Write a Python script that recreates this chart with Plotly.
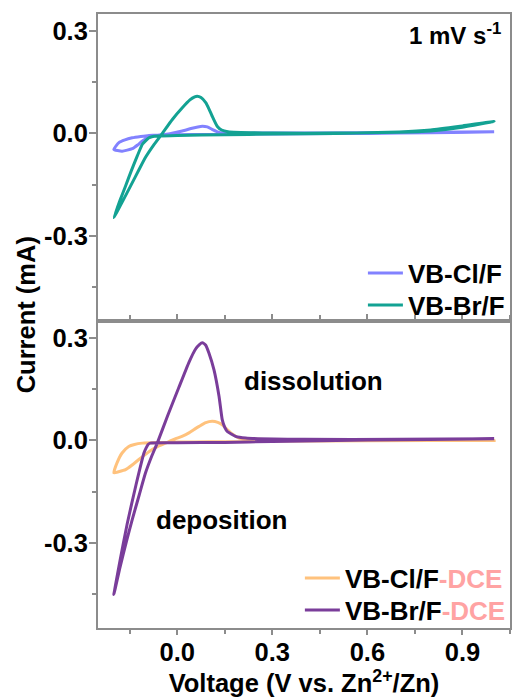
import plotly.graph_objects as go

# ---------------- data ----------------
# Top panel: VB-Cl/F (cathodic sweep 1.0 -> -0.2, then anodic sweep back to 1.0)
cl_v = [1.0, 0.8, 0.6, 0.4, 0.2, 0.1, 0.0, -0.05, -0.089, -0.115, -0.142, -0.165, -0.184, -0.2,
        -0.174, -0.142, -0.125, -0.11, -0.095, -0.079, -0.05, -0.02, 0.016, 0.047, 0.065, 0.079,
        0.095, 0.11, 0.132, 0.16, 0.3, 0.6, 0.8, 1.0]
cl_i = [0.004, 0.002, 0.0, -0.001, -0.002, -0.003, -0.004, -0.005, -0.006, -0.009, -0.013, -0.019, -0.027, -0.047,
        -0.052, -0.045, -0.034, -0.022, -0.014, -0.008, -0.004, 0.0, 0.007, 0.015, 0.019, 0.021,
        0.019, 0.012, 0.003, 0.001, 0.001, 0.002, 0.003, 0.005]

# Top panel: VB-Br/F
br_v = [1.0, 0.9, 0.8, 0.7, 0.5, 0.3, 0.15, 0.0, -0.06, -0.08, -0.089, -0.1, -0.11, -0.126, -0.145, -0.163, -0.18, -0.2,
        -0.17, -0.147, -0.12, -0.1, -0.075, -0.047, -0.016, 0.016, 0.04, 0.055, 0.063, 0.075, 0.09, 0.1, 0.11,
        0.126, 0.14, 0.16, 0.3, 0.5, 0.7, 0.8, 0.9, 1.0]
br_i = [0.035, 0.022, 0.01, 0.004, 0.0, -0.002, -0.004, -0.006, -0.008, -0.01, -0.013, -0.022, -0.032, -0.066, -0.11, -0.154, -0.195, -0.247,
        -0.195, -0.154, -0.105, -0.07, -0.035, 0.0, 0.04, 0.075, 0.098, 0.107, 0.109, 0.105, 0.09, 0.072, 0.051,
        0.021, 0.01, 0.005, 0.001, 0.001, 0.003, 0.007, 0.018, 0.035]

# Bottom panel: VB-Cl/F-DCE
cld_v = [1.0, 0.6, 0.3, 0.1, 0.0, -0.06, -0.11, -0.135, -0.153, -0.174, -0.19, -0.2,
         -0.185, -0.163, -0.142, -0.121, -0.1, -0.079, -0.058, -0.037, -0.02, -0.005, 0.015, 0.037, 0.055,
         0.069, 0.09, 0.11, 0.128, 0.142, 0.155, 0.169, 0.195, 0.25, 0.4, 0.7, 1.0]
cld_i = [0.0, -0.001, -0.002, -0.004, -0.005, -0.006, -0.008, -0.012, -0.018, -0.037, -0.066, -0.095,
         -0.092, -0.086, -0.072, -0.056, -0.041, -0.027, -0.016, -0.008, -0.001, 0.005, 0.012, 0.022, 0.033,
         0.041, 0.052, 0.056, 0.053, 0.046, 0.034, 0.022, 0.007, 0.003, 0.002, 0.001, 0.0]

# Bottom panel: VB-Br/F-DCE
brd_v = [1.0, 0.6, 0.3, 0.15, 0.0, -0.085, -0.092, -0.098, -0.105, -0.13, -0.158, -0.18, -0.2,
         -0.18, -0.16, -0.142, -0.12, -0.1, -0.08, -0.063, -0.03, 0.005, 0.037, 0.058, 0.07, 0.079, 0.09,
         0.1, 0.116, 0.132, 0.142, 0.15, 0.158, 0.184, 0.216, 0.4, 0.7, 1.0]
brd_i = [0.005, 0.001, -0.003, -0.006, -0.007, -0.008, -0.012, -0.022, -0.037, -0.13, -0.245, -0.35, -0.452,
         -0.37, -0.295, -0.232, -0.16, -0.095, -0.045, -0.008, 0.073, 0.155, 0.229, 0.268, 0.281, 0.286, 0.279,
         0.256, 0.207, 0.129, 0.061, 0.038, 0.026, 0.012, 0.007, 0.003, 0.003, 0.005]

x_ticks = [0.0, 0.3, 0.6, 0.9]
x_tick_labels = ["0.0", "0.3", "0.6", "0.9"]
y_ticks = [-0.3, 0.0, 0.3]
y_tick_labels = ["-0.3", "0.0", "0.3"]

# ---------------- figure ----------------
FONT = "Liberation Sans, Arial, sans-serif"
AX = "#8c8c8c"
pink = "#ffa3a3"
FS = 25.5

fig = go.Figure()
line_kw = dict(shape="spline", smoothing=0.5, width=3)

fig.add_trace(go.Scatter(x=cl_v, y=cl_i, mode="lines", name="VB-Cl/F",
                         line=dict(color="#8282ff", **line_kw), xaxis="x2", yaxis="y2", legend="legend"))
fig.add_trace(go.Scatter(x=br_v, y=br_i, mode="lines", name="VB-Br/F",
                         line=dict(color="#13a293", **line_kw), xaxis="x2", yaxis="y2", legend="legend2"))
fig.add_trace(go.Scatter(x=cld_v, y=cld_i, mode="lines",
                         name="VB-Cl/F<span style='color:%s'>-DCE</span>" % pink,
                         line=dict(color="#ffc27d", **line_kw), xaxis="x", yaxis="y", legend="legend3"))
fig.add_trace(go.Scatter(x=brd_v, y=brd_i, mode="lines",
                         name="VB-Br/F<span style='color:%s'>-DCE</span>" % pink,
                         line=dict(color="#7a3d9a", **line_kw), xaxis="x", yaxis="y", legend="legend4"))

tickfont = dict(family=FONT, size=FS, color="black", weight="bold")
yax = dict(range=[-0.55, 0.35], tickvals=y_ticks, ticktext=y_tick_labels, ticks="outside", ticklen=7,
           tickwidth=2, tickcolor=AX, showline=True, linecolor=AX, linewidth=2, mirror=True,
           showgrid=False, zeroline=False, tickfont=tickfont, ticklabelstandoff=-4,
           minor=dict(dtick=0.15, tick0=0, ticks="outside", ticklen=4, tickwidth=2, tickcolor=AX))
xax = dict(range=[-0.25, 1.05], showline=True, linecolor=AX, linewidth=2, showgrid=False, zeroline=False)

legfont = dict(family=FONT, size=26, color="black", weight="bold")
leg = dict(xanchor="left", yanchor="middle", bgcolor="rgba(0,0,0,0)", font=legfont, itemwidth=35)

fig.update_layout(
    width=513, height=698,
    margin=dict(l=98, r=1, t=14, b=70),
    plot_bgcolor="white", paper_bgcolor="white",
    showlegend=True,
    xaxis=dict(**xax, anchor="y", tickvals=x_ticks, ticktext=x_tick_labels,
               ticks="outside", ticklen=5, tickwidth=2, tickcolor=AX, mirror="ticks", tickfont=tickfont,
               ticklabelstandoff=-5,
               minor=dict(dtick=0.15, tick0=0, ticks="outside", ticklen=4, tickwidth=2, tickcolor=AX),
               title=dict(text="Voltage (V vs. Zn<sup>2+</sup>/Zn)", standoff=2,
                          font=dict(family=FONT, size=FS, color="black", weight="bold"))),
    xaxis2=dict(**xax, anchor="y2", matches="x", showticklabels=False, ticks="", mirror=True),
    yaxis=dict(**yax, domain=[0, 0.5], anchor="x"),
    yaxis2=dict(**yax, domain=[0.5, 1], anchor="x2"),
    legend=dict(x=0.643, y=0.578, **leg),
    legend2=dict(x=0.643, y=0.526, **leg),
    legend3=dict(x=0.49, y=0.0814, **leg),
    legend4=dict(x=0.49, y=0.0293, **leg),
    annotations=[
        dict(text="1 mV s<sup>-1</sup>", xref="paper", yref="paper", x=0.982, y=0.968,
             xanchor="right", yanchor="middle", showarrow=False,
             font=dict(family=FONT, size=24, color="black", weight="bold")),
        dict(text="dissolution", xref="x", yref="y", x=0.429, y=0.173,
             xanchor="center", yanchor="middle", showarrow=False,
             font=dict(family=FONT, size=26, color="black", weight="bold")),
        dict(text="deposition", xref="x", yref="y", x=0.14, y=-0.234,
             xanchor="center", yanchor="middle", showarrow=False,
             font=dict(family=FONT, size=26, color="black", weight="bold")),
        dict(text="Current (mA)", xref="paper", yref="paper", x=-0.176, y=0.51,
             xanchor="center", yanchor="middle", textangle=-90, showarrow=False,
             font=dict(family=FONT, size=FS, color="black", weight="bold")),
    ],
)

fig.write_html("out.html")
